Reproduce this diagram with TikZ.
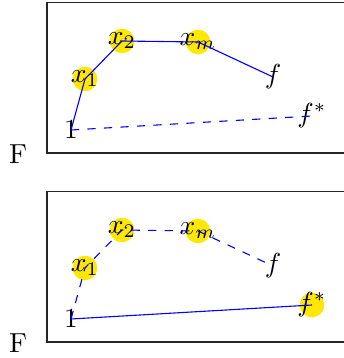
\documentclass[tikz,border=0pt]{standalone}
\definecolor{hl}{RGB}{255,232,0}
\begin{document}
\begin{tikzpicture}[x=0.3636pt,y=-0.3636pt,
  pt/.style={inner sep=0pt},
  spot/.style={fill=hl},
  frame/.style={draw=black!85,line width=0.55pt},
  path/.style={blue,line width=0.4pt},
  lbl/.style={inner sep=0pt}]
\useasboundingbox (0,0) rectangle (343,358);
% top panel
\draw[frame] (360,2.7) -- (47,2.7) -- (47,153) -- (360,153);
\node[lbl] (F1) at (18,154) {F};
\coordinate (c2) at (85,79);
\coordinate (c3) at (122,41);
\coordinate (c4) at (198,42);
\fill[spot] (c2) circle (12.3);
\fill[spot] (c3) circle (12.3);
\fill[spot] (c4) circle (12.3);
\node[pt] (a1) at (71,130) {$1$};
\node[pt] (a2) at (c2) {$x_1$};
\node[pt] (a3) at (c3) {$x_2$};
\node[pt] (a4) at (c4) {$x_m$};
\node[pt] (a5) at (273,77) {$f$};
\node[pt] (a6) at (312,116) {$f^*$};
\draw[path] (a1.center) -- (a2.center) -- (a3.center) -- (a4.center) -- (a5.center);
\draw[path,dashed] (a1.center) -- (a6.center);
% bottom panel
\draw[frame] (360,191.7) -- (47,191.7) -- (47,342) -- (360,342);
\node[lbl] (F2) at (18,343) {F};
\coordinate (d2) at (85,268);
\coordinate (d3) at (122,230);
\coordinate (d4) at (198,231);
\coordinate (d6) at (312,305);
\fill[spot] (d2) circle (12.3);
\fill[spot] (d3) circle (12.3);
\fill[spot] (d4) circle (12.3);
\fill[spot] (d6) circle (12.3);
\node[pt] (b1) at (71,319) {$1$};
\node[pt] (b2) at (d2) {$x_1$};
\node[pt] (b3) at (d3) {$x_2$};
\node[pt] (b4) at (d4) {$x_m$};
\node[pt] (b5) at (273,266) {$f$};
\node[pt] (b6) at (d6) {$f^*$};
\draw[path,dashed] (b1.center) -- (b2.center) -- (b3.center) -- (b4.center) -- (b5.center);
\draw[path] (b1.center) -- (b6.center);
\end{tikzpicture}
\end{document}
